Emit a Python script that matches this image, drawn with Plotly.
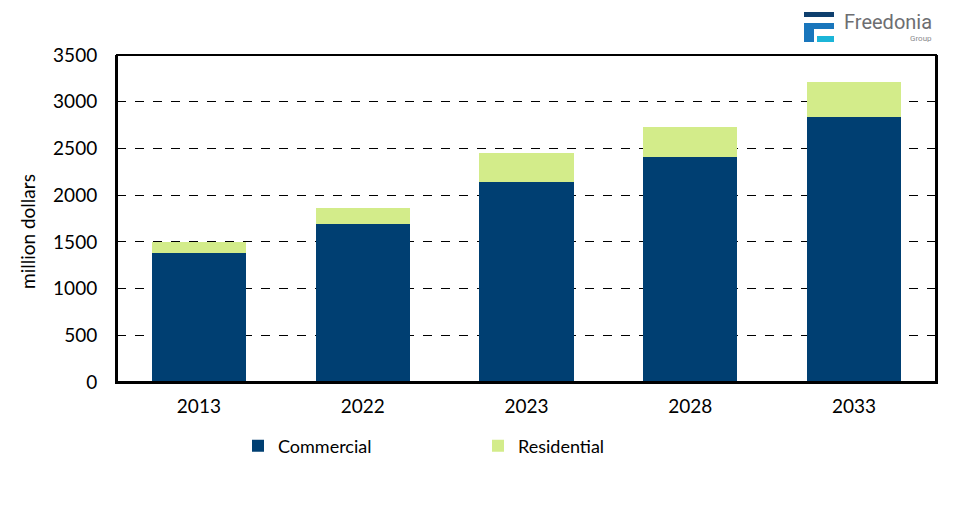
import plotly.graph_objects as go

years = ["2013", "2022", "2023", "2028", "2033"]
commercial = [1380, 1690, 2140, 2410, 2835]
residential = [120, 175, 310, 320, 375]
y_ticks = [0, 500, 1000, 1500, 2000, 2500, 3000, 3500]

FONT = "Lato"
OFF = 8  # page body margin

fig = go.Figure()
fig.add_trace(go.Bar(x=years, y=commercial, name="Commercial",
                     marker=dict(color="#003F72", line=dict(width=0))))
fig.add_trace(go.Bar(x=years, y=residential, name="Residential",
                     marker=dict(color="#D3EC8A", line=dict(width=0))))

fig.update_layout(
    barmode="stack",
    bargap=0.425,
    width=975 - OFF, height=511 - OFF,
    margin=dict(l=117 - OFF, r=39, t=55 - OFF, b=129),
    paper_bgcolor="white", plot_bgcolor="white",
    font=dict(family=FONT, size=19, color="black"),
    showlegend=True,
    legend=dict(orientation="h", x=(238 - 117) / 819, xanchor="left",
                y=(382 - 446) / 327, yanchor="middle",
                traceorder="normal",
                font=dict(size=18), itemwidth=30,
                entrywidth=195, entrywidthmode="pixels"),
)
fig.update_xaxes(showline=True, linecolor="black", linewidth=2, mirror=False,
                 ticks="", tickfont=dict(size=19), ticklabelstandoff=6)
fig.update_yaxes(range=[0, 3500], tickvals=y_ticks, showgrid=True,
                 gridcolor="black", griddash="dash", gridwidth=1,
                 showline=True, linecolor="black", linewidth=2, mirror=True,
                 zeroline=False, ticks="", ticklen=0, ticklabelstandoff=14,
                 tickfont=dict(size=19))
fig.add_shape(type="rect", xref="paper", yref="paper", x0=0, y0=0, x1=1, y1=1,
              line=dict(color="black", width=2), layer="above")

# y-axis title as annotation (sits slightly below the plot centre, as in the reference)
fig.add_annotation(text="million dollars", xref="paper", yref="paper",
                   x=(27 - 117) / 819, y=(382 - 232) / 327, xanchor="center", yanchor="middle",
                   textangle=-90, showarrow=False, font=dict(size=19, color="black"))

# Logo (positions in reference pixels)
def px_rect(x0, y0, x1, y1, color):
    fig.add_shape(type="rect", xref="paper", yref="paper",
                  x0=(x0 - 117) / 819, x1=(x1 - 117) / 819,
                  y0=(382 - y1) / 327, y1=(382 - y0) / 327,
                  fillcolor=color, line=dict(width=0), layer="above")

px_rect(804, 12, 834, 17, "#0E3F6E")
px_rect(804, 23, 834, 29, "#1976BC")
px_rect(804, 29, 814, 42, "#1976BC")
px_rect(817, 36, 834, 42, "#1CB5D8")

fig.add_annotation(text="Freedonia", xref="paper", yref="paper",
                   x=(842 - 117) / 819, y=(382 - 22) / 327, xanchor="left", yanchor="middle",
                   showarrow=False, font=dict(family="Roboto", size=20, color="#6D6E71"))
fig.add_annotation(text="Group", xref="paper", yref="paper",
                   x=(934 - 117) / 819, y=(382 - 38) / 327, xanchor="right", yanchor="middle",
                   showarrow=False, font=dict(family="Roboto", size=8, color="#8A8B8E"))

fig.write_html("out.html")
